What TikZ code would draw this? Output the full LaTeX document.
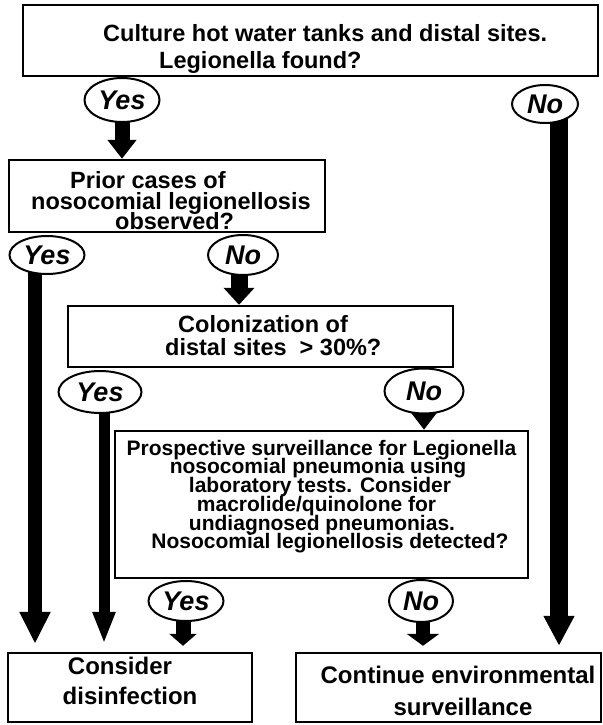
\documentclass[tikz,border=0pt]{standalone}
\usepackage{fontspec}
\setmainfont{Liberation Sans}
\usetikzlibrary{arrows.meta,calc,shapes.geometric}
\pgfdeclarelayer{bg}
\pgfsetlayers{bg,main}
\tikzset{
 box/.style={draw, line width=2.4pt, rectangle, inner sep=0pt},
 oval/.style={draw, line width=2pt, ellipse, inner sep=0pt, fill=white,
   font=\fontsize{27}{27}\selectfont\bfseries\itshape},
 ln/.style={inner sep=0pt, anchor=base west, font=\fontsize{23.5}{23.5}\selectfont\bfseries},
 lnc/.style={inner sep=0pt, anchor=base, font=\fontsize{24}{24}\selectfont\bfseries},
 lns/.style={inner sep=0pt, anchor=base, font=\fontsize{21}{21}\selectfont\bfseries},
 fat/.style n args={3}{line width=#1pt, -{Triangle[width=#2pt,length=#3pt]}},
}
\begin{document}
\begin{tikzpicture}[x=1pt,y=1pt]
\useasboundingbox (0,0) rectangle (602,-725);
\begin{pgfonlayer}{bg}
\fill[white] (0,0) rectangle (602,-725);
\end{pgfonlayer}

% boxes
\node[box, minimum width=575pt, minimum height=71pt] (top) at (310.5,-40.5) {};
\node[box, minimum width=316pt, minimum height=72pt] (prior) at (167,-196) {};
\node[box, minimum width=385pt, minimum height=61pt] (colon) at (260.5,-336.5) {};
\node[box, minimum width=413pt, minimum height=147pt] (prosp) at (321.5,-504.5) {};
\node[box, minimum width=244pt, minimum height=69pt] (disinf) at (130,-687.5) {};
\node[box, minimum width=305pt, minimum height=69pt] (contin) at (448.5,-687.5) {};

% text lines
\node[ln] (t1a) at (103,-42) {Culture hot water tanks and distal sites.};
\node[ln] (t1b) at (159,-68) {Legionella found?};
\node[ln] (t2a) at (70,-188) {Prior cases of};
\node[ln] (t2b) at (31,-209) {nosocomial legionellosis};
\node[ln] (t2c) at (115,-229) {observed?};
\node[ln] (t3a) at (178,-332) {Colonization of};
\node[ln] (t3b) at (165,-355) {distal sites~~> 30\%?};
\node[lns] (t4a) at (321.5,-455) {Prospective surveillance for Legionella};
\node[lns] (t4b) at (318,-473.6) {nosocomial pneumonia using};
\node[lns] (t4c) at (320,-492.2) {laboratory tests. Consider};
\node[lns] (t4d) at (316.5,-511) {macrolide/quinolone for};
\node[lns] (t4e) at (322,-530) {undiagnosed pneumonias.};
\node[lns] (t4f) at (330,-548) {Nosocomial legionellosis detected?};
\node[lnc] (t5a) at (120,-674) {Consider};
\node[lnc] (t5b) at (130,-704) {disinfection};
\node[lnc] (t6a) at (458,-683) {Continue environmental};
\node[lnc] (t6b) at (463,-715) {surveillance};

% ovals
\node[oval, minimum width=75pt, minimum height=44pt] (y1) at (122,-100) {Yes};
\node[oval, minimum width=66pt, minimum height=38pt] (n1) at (545,-104) {No};
\node[oval, minimum width=75pt, minimum height=38pt] (y2) at (47,-255) {Yes};
\node[oval, minimum width=70pt, minimum height=40pt] (n2) at (243,-255) {No};
\node[oval, minimum width=83pt, minimum height=42pt] (y3) at (100,-392) {Yes};
\node[oval, minimum width=79pt, minimum height=45pt] (n3) at (424,-391) {No};
\node[oval, minimum width=75pt, minimum height=40pt] (y4) at (186,-601) {Yes};
\node[oval, minimum width=64pt, minimum height=42pt] (n4) at (421,-601) {No};

% arrows
\begin{pgfonlayer}{bg}
\draw[fat={15}{28}{19}] (y1.center) -- (y1.center |- prior.north);
\draw[fat={18}{29}{30}] ($(n1.center)+(14,0)$) -- ($(n1.center |- contin.north)+(14,6)$);
\draw[fat={14}{29}{32}] ($(y2.center)+(-12,0)$) -- ($(y2.center |- disinf.north)+(-12,8)$);
\draw[fat={17}{30}{17}] ($(n2.center)+(-4,0)$) -- ($(n2.center |- colon.north)+(-4,0)$);
\draw[fat={11}{21}{32}] ($(y3.center)+(4,0)$) -- ($(y3.center |- disinf.north)+(4,8)$);
\draw[fat={17}{29}{20}] (n3.center) -- (n3.center |- prosp.north);
\draw[fat={15}{27}{12}] ($(y4.center)+(-3,0)$) -- ($(y4.center |- disinf.north)+(-3,6)$);
\draw[fat={14}{32}{12}] ($(n4.center)+(2,0)$) -- ($(n4.center |- contin.north)+(2,6)$);
\end{pgfonlayer}
\end{tikzpicture}
\end{document}
